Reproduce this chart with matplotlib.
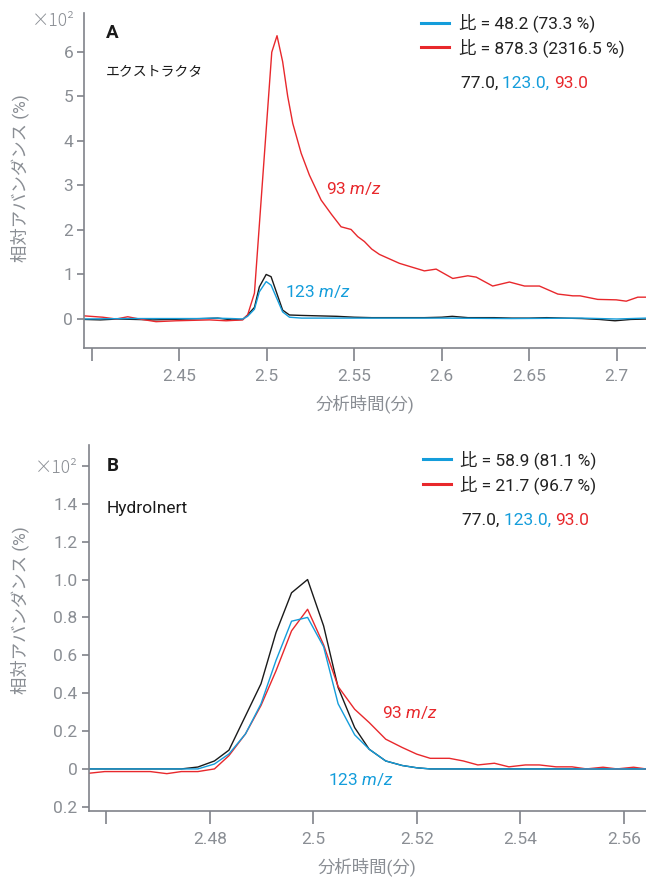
import matplotlib
matplotlib.use('Agg')
import matplotlib.pyplot as plt
import matplotlib.transforms as mtransforms
from matplotlib.lines import Line2D

plt.rcParams['font.family'] = ['Roboto', 'Noto Sans CJK JP', 'DejaVu Sans']
plt.rcParams['mathtext.fontset'] = 'custom'
plt.rcParams['mathtext.rm'] = 'Roboto'
plt.rcParams['mathtext.it'] = 'Roboto:italic'

BLUE = '#149ddb'
RED = '#e8282c'
BLACK = '#1a1a1a'
GRAY = '#8a8e94'
SPINE = '#80838a'

# ---- panel A (extractor), y in units of x10^2 %
a_red_t = [2.3958, 2.4063, 2.414, 2.4206, 2.4273, 2.4368, 2.4482, 2.458, 2.4673, 2.4768,
           2.4863, 2.4891, 2.493, 2.5029, 2.5059, 2.5091, 2.512, 2.5149,
           2.5197, 2.5244, 2.5311, 2.537, 2.5425, 2.5482, 2.552, 2.5558, 2.56, 2.5644,
           2.5701, 2.5758, 2.5825, 2.5901, 2.5968, 2.6063, 2.6149, 2.6197, 2.6291, 2.6387,
           2.6473, 2.6558, 2.6663, 2.6749, 2.679, 2.6891, 2.6997, 2.7054, 2.712, 2.7167]
a_red_y = [0.07, 0.04, 0.0, 0.05, 0.0, -0.06, -0.04, -0.03, -0.02, -0.04,
           -0.02, 0.09, 0.58, 5.99, 6.36, 5.78, 5.0, 4.39,
           3.72, 3.23, 2.67, 2.35, 2.07, 2.01, 1.85, 1.74, 1.57, 1.45,
           1.35, 1.25, 1.17, 1.08, 1.12, 0.91, 0.97, 0.94, 0.74, 0.83,
           0.74, 0.74, 0.56, 0.52, 0.52, 0.44, 0.43, 0.40, 0.49, 0.49]

a_blk_t = [2.3958, 2.405, 2.415, 2.425, 2.435, 2.445, 2.455, 2.465, 2.472, 2.48,
           2.4863, 2.4891, 2.493, 2.4958, 2.4997, 2.5025, 2.5091, 2.513, 2.52, 2.53,
           2.54, 2.55, 2.56, 2.57, 2.58, 2.59, 2.6, 2.606, 2.615, 2.63,
           2.64, 2.65, 2.66, 2.67, 2.68, 2.69, 2.699, 2.708, 2.7167]
a_blk_y = [-0.01, -0.02, 0.0, -0.01, -0.02, -0.01, 0.0, 0.01, 0.02, -0.02,
           -0.01, 0.09, 0.26, 0.72, 1.0, 0.95, 0.2, 0.09, 0.08, 0.07,
           0.06, 0.04, 0.03, 0.03, 0.03, 0.03, 0.04, 0.06, 0.03, 0.03,
           0.02, 0.02, 0.03, 0.02, 0.01, -0.01, -0.04, -0.01, 0.0]

a_blu_t = [2.3958, 2.42, 2.44, 2.46, 2.47, 2.48, 2.4863, 2.4891, 2.493, 2.4958,
           2.4997, 2.5025, 2.5091, 2.513, 2.52, 2.56, 2.6, 2.64, 2.68, 2.7, 2.7167]
a_blu_y = [0.0, 0.01, 0.01, 0.01, 0.02, 0.01, 0.0, 0.06, 0.22, 0.61,
           0.84, 0.76, 0.16, 0.04, 0.02, 0.02, 0.02, 0.01, 0.02, 0.0, 0.02]

# ---- panel B (HydroInert)
b_blk_t = [2.4566, 2.4745, 2.4777, 2.4809, 2.4837, 2.4869, 2.4899, 2.4928, 2.4958, 2.4989,
           2.502, 2.5048, 2.508, 2.5108, 2.514, 2.5172, 2.52, 2.5226, 2.5643]
b_blk_y = [0.0, 0.0, 0.01, 0.042, 0.099, 0.28, 0.45, 0.72, 0.93, 1.0,
           0.755, 0.43, 0.218, 0.104, 0.042, 0.018, 0.006, 0.0, 0.0]

b_blu_t = [2.4566, 2.4745, 2.4777, 2.4809, 2.4837, 2.4869, 2.4899, 2.4928, 2.4958, 2.4989,
           2.502, 2.5048, 2.508, 2.5108, 2.514, 2.5172, 2.52, 2.5226, 2.5643]
b_blu_y = [0.0, 0.0, 0.0, 0.026, 0.079, 0.185, 0.344, 0.573, 0.78, 0.80,
           0.645, 0.344, 0.18, 0.104, 0.042, 0.018, 0.006, 0.0, 0.0]

b_red_t = [2.4566, 2.4597, 2.4685, 2.4717, 2.4745, 2.4777, 2.4809, 2.4837, 2.4869, 2.4899,
           2.4928, 2.4958, 2.4989, 2.502, 2.5048, 2.508, 2.5108, 2.514, 2.5172, 2.52,
           2.5226, 2.5263, 2.529, 2.5318, 2.535, 2.5378, 2.541, 2.5437, 2.5469, 2.55,
           2.5528, 2.556, 2.5587, 2.5619, 2.5643]
b_red_y = [-0.023, -0.014, -0.014, -0.025, -0.014, -0.014, 0.0, 0.07, 0.185, 0.335,
           0.518, 0.729, 0.843, 0.655, 0.435, 0.315, 0.245, 0.157, 0.113, 0.078,
           0.056, 0.056, 0.042, 0.021, 0.03, 0.011, 0.021, 0.021, 0.011, 0.011,
           0.0, 0.009, 0.0, 0.009, 0.0]

a_xticks = [2.40, 2.45, 2.50, 2.55, 2.60, 2.65, 2.70]
a_xlabels = ['', '2.45', '2.5', '2.55', '2.6', '2.65', '2.7']
a_yticks = [0, 1, 2, 3, 4, 5, 6]
a_ylabels = ['0', '1', '2', '3', '4', '5', '6']

b_xticks = [2.46, 2.48, 2.50, 2.52, 2.54, 2.56]
b_xlabels = ['', '2.48', '2.5', '2.52', '2.54', '2.56']
b_yticks = [-0.2, 0, 0.2, 0.4, 0.6, 0.8, 1.0, 1.2, 1.4, 1.6]
b_ylabels = ['0.2', '0', '0.2', '0.4', '0.6', '0.8', '1.0', '1.2', '1.4', '×10²']

fig = plt.figure(figsize=(6.46, 8.77), dpi=100)
ax1 = fig.add_axes([0.1305, 0.6032, 0.8695, 0.382])
ax2 = fig.add_axes([0.1373, 0.0753, 0.8627, 0.4172])

SCALE_FONT = dict(family=['Noto Sans CJK JP'], fontsize=12.5, weight='light', color=GRAY)


def style_axes(ax, xticks, xlabels, yticks, ylabels, xlim, ylim, ylab_y):
    for s in ['top', 'right']:
        ax.spines[s].set_visible(False)
    for s in ['left', 'bottom']:
        ax.spines[s].set_color(SPINE)
        ax.spines[s].set_linewidth(1.2)
    ax.set_xlim(xlim)
    ax.set_ylim(ylim)
    ax.set_xticks(xticks)
    ax.set_xticklabels(xlabels)
    ax.set_yticks(yticks)
    ax.set_yticklabels(ylabels)
    ax.tick_params(axis='x', length=9, width=1.2, color=SPINE, labelcolor=GRAY,
                   labelsize=12.5, pad=6)
    ax.tick_params(axis='y', length=5, width=1.2, color=SPINE, labelcolor=GRAY,
                   labelsize=12.5, pad=3)
    ax.set_xlabel('分析時間(分)', color=GRAY, fontsize=12.5, labelpad=7.5)
    ax.set_ylabel('相対アバンダンス (%)', color=GRAY, fontsize=12.5)
    trans = mtransforms.blended_transform_factory(fig.transFigure, ax.transAxes)
    ax.yaxis.set_label_coords(29 / 646, ylab_y, transform=trans)


def ion_legend(ax, labels, y_leg, y_txt):
    handles = [Line2D([], [], color=BLUE, lw=2.2), Line2D([], [], color=RED, lw=2.2)]
    ax.legend(handles, labels, loc='upper left', bbox_to_anchor=(0.60, y_leg),
              frameon=False, fontsize=12.5, handlelength=1.6, handletextpad=0.55,
              labelspacing=0.35, borderpad=0, borderaxespad=0, labelcolor='#222222')
    t1 = ax.text(0.67, y_txt, '77.0, ', transform=ax.transAxes, fontsize=12.5,
                 color='#222222', va='center')
    t2 = ax.annotate('123.0, ', xy=(1, 0), xycoords=t1, va='bottom', fontsize=12.5,
                     color=BLUE)
    ax.annotate('93.0', xy=(1, 0), xycoords=t2, va='bottom', fontsize=12.5, color=RED)


# panel A
ax1.plot(a_blk_t, a_blk_y, color=BLACK, lw=1.0)
ax1.plot(a_red_t, a_red_y, color=RED, lw=1.0)
ax1.plot(a_blu_t, a_blu_y, color=BLUE, lw=1.0)
style_axes(ax1, a_xticks, a_xlabels, a_yticks, a_ylabels, (2.3958, 2.7167), (-0.651, 6.87),
           0.507)
ax1.text(-0.017, 0.976, '×10²', transform=ax1.transAxes, ha='right', va='center',
         **SCALE_FONT)
ax1.text(0.038, 0.94, 'A', transform=ax1.transAxes, fontsize=13.5, fontweight='bold',
         color='#1a1a1a', va='center')
ax1.text(0.038, 0.823, 'エクストラクタ', transform=ax1.transAxes, fontsize=10,
         color='#1a1a1a', va='center')
ax1.text(2.5337, 2.92, '93 $m/z$', color=RED, fontsize=12.5, va='center')
ax1.text(2.5103, 0.62, '123 $m/z$', color=BLUE, fontsize=12.5, va='center')
ion_legend(ax1, ['比 = 48.2 (73.3 %)', '比 = 878.3 (2316.5 %)'], 0.998, 0.79)

# panel B
ax2.plot(b_blk_t, b_blk_y, color=BLACK, lw=1.0)
ax2.plot(b_red_t, b_red_y, color=RED, lw=1.0)
ax2.plot(b_blu_t, b_blu_y, color=BLUE, lw=1.0)
style_axes(ax2, b_xticks, b_xlabels, b_yticks, b_ylabels, (2.4566, 2.5643), (-0.222, 1.71),
           0.55)
ax2.get_yticklabels()[-1].set(family=['Noto Sans CJK JP'], weight='light')
ax2.text(0.032, 0.944, 'B', transform=ax2.transAxes, fontsize=13.5, fontweight='bold',
         color='#1a1a1a', va='center')
ax2.text(0.032, 0.828, 'HydroInert', transform=ax2.transAxes, fontsize=12.5,
         color='#1a1a1a', va='center')
ax2.text(2.5133, 0.30, '93 $m/z$', color=RED, fontsize=12.5, va='center')
ax2.text(2.5028, -0.058, '123 $m/z$', color=BLUE, fontsize=12.5, va='center')
ion_legend(ax2, ['比 = 58.9 (81.1 %)', '比 = 21.7 (96.7 %)'], 0.987, 0.795)

fig.savefig('out.png', dpi=100)
